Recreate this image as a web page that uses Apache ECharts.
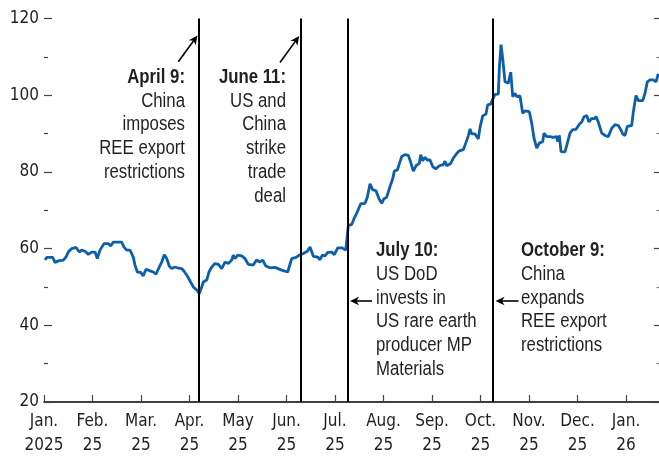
<!DOCTYPE html>
<html>
<head>
<meta charset="utf-8">
<script src="https://cdn.jsdelivr.net/npm/echarts@6/dist/echarts.min.js"></script>
<style>
html,body{margin:0;padding:0;background:#fff;}
#chart{width:659px;height:458px;}
</style>
</head>
<body>
<div id="chart"></div>
<script>
// Month tick labels (x axis is in months since Jan. 2025)
const monthLabels = ['Jan.\n2025','Feb.\n25','Mar.\n25','Apr.\n25','May\n25','Jun.\n25','Jul.\n25','Aug.\n25','Sep.\n25','Oct.\n25','Nov.\n25','Dec.\n25','Jan.\n26'];
const monthTicks = [0,1,2,3,4,5,6,7,8,9,10,11,12];

// Series positions (months since Jan. 1, 2025) and index values
const xPos = [0.021,0.056,0.179,0.227,0.295,0.398,0.454,0.501,0.571,0.660,0.728,0.777,0.845,0.913,0.984,1.052,1.099,1.155,1.237,1.326,1.375,1.429,1.602,1.649,1.705,1.773,1.841,1.876,1.924,1.994,2.047,2.103,2.186,2.254,2.309,2.377,2.427,2.480,2.530,2.584,2.633,2.701,2.748,2.839,2.887,2.942,2.975,3.010,3.078,3.148,3.202,3.252,3.285,3.355,3.402,3.458,3.526,3.594,3.664,3.732,3.800,3.870,3.903,3.938,3.994,4.076,4.144,4.212,4.315,4.386,4.439,4.509,4.571,4.660,4.763,4.798,4.901,5.025,5.107,5.196,5.278,5.346,5.429,5.485,5.553,5.643,5.691,5.738,5.794,5.849,5.932,5.986,6.056,6.138,6.221,6.274,6.344,6.392,6.447,6.530,6.619,6.666,6.722,6.777,6.845,6.907,6.963,7.010,7.066,7.134,7.190,7.223,7.285,7.326,7.375,7.443,7.511,7.561,7.614,7.670,7.738,7.767,7.808,7.856,7.903,7.959,8.014,8.076,8.151,8.233,8.268,8.303,8.386,8.439,8.509,8.563,8.645,8.701,8.748,8.784,8.819,8.887,8.955,8.990,9.045,9.113,9.148,9.210,9.252,9.299,9.367,9.388,9.423,9.458,9.505,9.573,9.623,9.664,9.711,9.746,9.814,9.870,9.918,10.006,10.056,10.103,10.159,10.212,10.282,10.309,10.365,10.433,10.501,10.571,10.592,10.625,10.660,10.742,10.790,10.845,10.901,10.969,10.996,11.037,11.087,11.134,11.190,11.237,11.293,11.340,11.381,11.429,11.499,11.567,11.635,11.705,11.773,11.841,11.891,11.932,11.979,12.027,12.117,12.151,12.206,12.254,12.344,12.392,12.439,12.495,12.563,12.619,12.666];
const values = [57.0,57.7,57.7,56.4,56.8,57.0,57.8,59.1,60.0,60.3,59.1,59.6,59.3,58.5,59.1,59.1,57.4,59.6,61.3,61.3,60.7,61.7,61.7,60.4,59.6,59.6,57.8,55.7,53.9,53.8,52.9,54.6,54.2,53.9,53.3,55.2,56.5,58.4,57.4,55.4,54.8,55.2,55.0,54.8,54.1,53.1,52.4,52.2,50.0,49.2,48.3,50.0,51.3,51.8,53.9,55.2,56.1,55.9,54.8,56.5,56.1,57.0,58.3,57.4,58.3,58.1,57.4,55.9,55.7,57.1,56.5,57.0,55.5,55.0,55.1,54.6,54.4,53.9,57.4,57.7,58.4,58.7,59.3,60.4,58.0,57.8,57.1,58.3,58.1,59.0,59.1,58.4,60.2,60.2,59.6,66.0,66.3,67.8,69.2,71.7,71.8,73.4,76.9,75.3,75.1,73.0,71.8,73.0,73.4,76.2,78.2,80.2,80.5,82.1,84.0,84.5,84.3,82.5,80.2,81.6,82.2,84.5,82.9,83.8,83.1,83.1,81.4,80.8,81.6,81.9,82.8,81.6,82.2,83.6,84.8,85.5,85.8,87.7,89.4,91.2,89.9,89.9,88.6,91.6,94.6,95.1,97.5,97.7,99.0,100.2,100.3,107.0,113.2,109.6,103.5,103.1,106.0,99.6,100.5,99.6,99.8,95.3,95.9,95.7,92.7,88.8,86.2,87.5,87.9,90.1,89.2,89.2,89.0,89.2,87.9,89.5,85.3,85.2,87.5,90.1,91.0,91.1,90.7,92.4,93.0,94.4,94.7,93.0,94.0,93.8,94.4,93.0,90.1,89.5,89.2,91.4,92.3,92.1,91.0,89.9,89.5,91.9,92.1,95.7,99.9,98.6,98.6,100.5,103.5,104.0,104.0,103.5,105.6];

// Event dates (months since Jan. 1, 2025)
const eventPos = [3.202, 5.305, 6.262, 9.252];

// Annotation texts
const noteApril = ['April 9:', 'China', 'imposes', 'REE export', 'restrictions'];
const noteJune = ['June 11:', 'US and', 'China', 'strike', 'trade', 'deal'];
const noteJuly = ['July 10:', 'US DoD', 'invests in', 'US rare earth', 'producer MP', 'Materials'];
const noteOct = ['October 9:', 'China', 'expands', 'REE export', 'restrictions'];

const NOTE_FONT = "'Liberation Sans',Arial,sans-serif";
const AXIS_FONT = "'DejaVu Sans Condensed','Liberation Sans',sans-serif";
const TXT = '#231f20';

function noteBlock(lines, x, y0, align) {
  return lines.map((t, i) => ({
    type: 'text', x: x, y: y0 + i * 23.8, scaleX: 0.86, silent: true,
    style: { text: t, fill: TXT, fontFamily: NOTE_FONT, fontSize: 19.5,
      fontWeight: i === 0 ? 'bold' : 'normal', align: align, verticalAlign: 'middle' }
  }));
}
function arrow(x1, y1, x2, y2) {
  const dx = x2 - x1, dy = y2 - y1, L = Math.sqrt(dx*dx + dy*dy);
  const ux = dx / L, uy = dy / L, nx = -uy, ny = ux;
  const hl = 9, hw = 4.3;
  return [
    { type: 'line', silent: true, shape: { x1: x1, y1: y1, x2: x2 - ux*6, y2: y2 - uy*6 },
      style: { stroke: '#000', lineWidth: 1.6 } },
    { type: 'polygon', silent: true,
      shape: { points: [[x2, y2], [x2 - ux*hl + nx*hw, y2 - uy*hl + ny*hw], [x2 - ux*6.5, y2 - uy*6.5], [x2 - ux*hl - nx*hw, y2 - uy*hl - ny*hw]] },
      style: { fill: '#000' } }
  ];
}

const chart = echarts.init(document.getElementById('chart'), null, { renderer: 'canvas' });
const graphics = []
  .concat(noteBlock(noteApril, 185, 77.5, 'right'))
  .concat(noteBlock(noteJune, 286, 77.5, 'right'))
  .concat(noteBlock(noteJuly, 376, 250.7, 'left'))
  .concat(noteBlock(noteOct, 521, 250.7, 'left'))
  .concat(arrow(178.3, 61.7, 197.5, 35.5))
  .concat(arrow(280.0, 62.5, 299.2, 36.0))
  .concat(arrow(372.0, 301, 350.0, 301))
  .concat(arrow(518.5, 301, 495.5, 301));

chart.setOption({
  animation: false,
  backgroundColor: '#fff',
  grid: { left: 44, right: 0, top: 18.5, bottom: 56, containLabel: false },
  xAxis: {
    type: 'value', min: 0, max: 12.68, interval: 1,
    axisLine: { show: true, lineStyle: { color: '#000', width: 1.5 } },
    axisTick: { show: true, inside: true, length: 7, customValues: monthTicks, lineStyle: { color: '#444', width: 1.2 } },
    axisLabel: { customValues: monthTicks, formatter: v => monthLabels[Math.round(v)] || '',
      fontFamily: AXIS_FONT, fontSize: 17, lineHeight: 24, color: TXT, margin: 8 },
    splitLine: { show: false }
  },
  yAxis: [{
    type: 'value', min: 20, max: 120, interval: 20, position: 'left',
    axisLine: { show: false },
    axisTick: { show: true, inside: true, length: 8, lineStyle: { color: '#444', width: 1.2 } },
    minorTick: { show: true, splitNumber: 2, length: 4, lineStyle: { color: '#444', width: 1.2 } },
    axisLabel: { fontFamily: AXIS_FONT, fontSize: 17, color: TXT, margin: 5 },
    splitLine: { show: false }
  }, {
    type: 'value', min: 20, max: 120, interval: 20, position: 'right',
    axisLine: { show: false },
    axisTick: { show: true, inside: true, length: 5, lineStyle: { color: '#444', width: 1.2 } },
    minorTick: { show: true, splitNumber: 2, length: 2.5, lineStyle: { color: '#777', width: 1.2 } },
    axisLabel: { show: false },
    splitLine: { show: false }
  }],
  series: [{
    type: 'line',
    data: xPos.map((x, i) => [x, values[i]]),
    showSymbol: false,
    lineStyle: { color: '#0c5fa8', width: 2.8 },
    itemStyle: { color: '#0c5fa8' },
    z: 3,
    markLine: {
      silent: true, symbol: 'none', animation: false,
      label: { show: false },
      lineStyle: { color: '#000', width: 2, type: 'solid' },
      emphasis: { disabled: true },
      data: eventPos.map(x => ({ xAxis: x }))
    }
  }],
  graphic: graphics
});
</script>
</body>
</html>
